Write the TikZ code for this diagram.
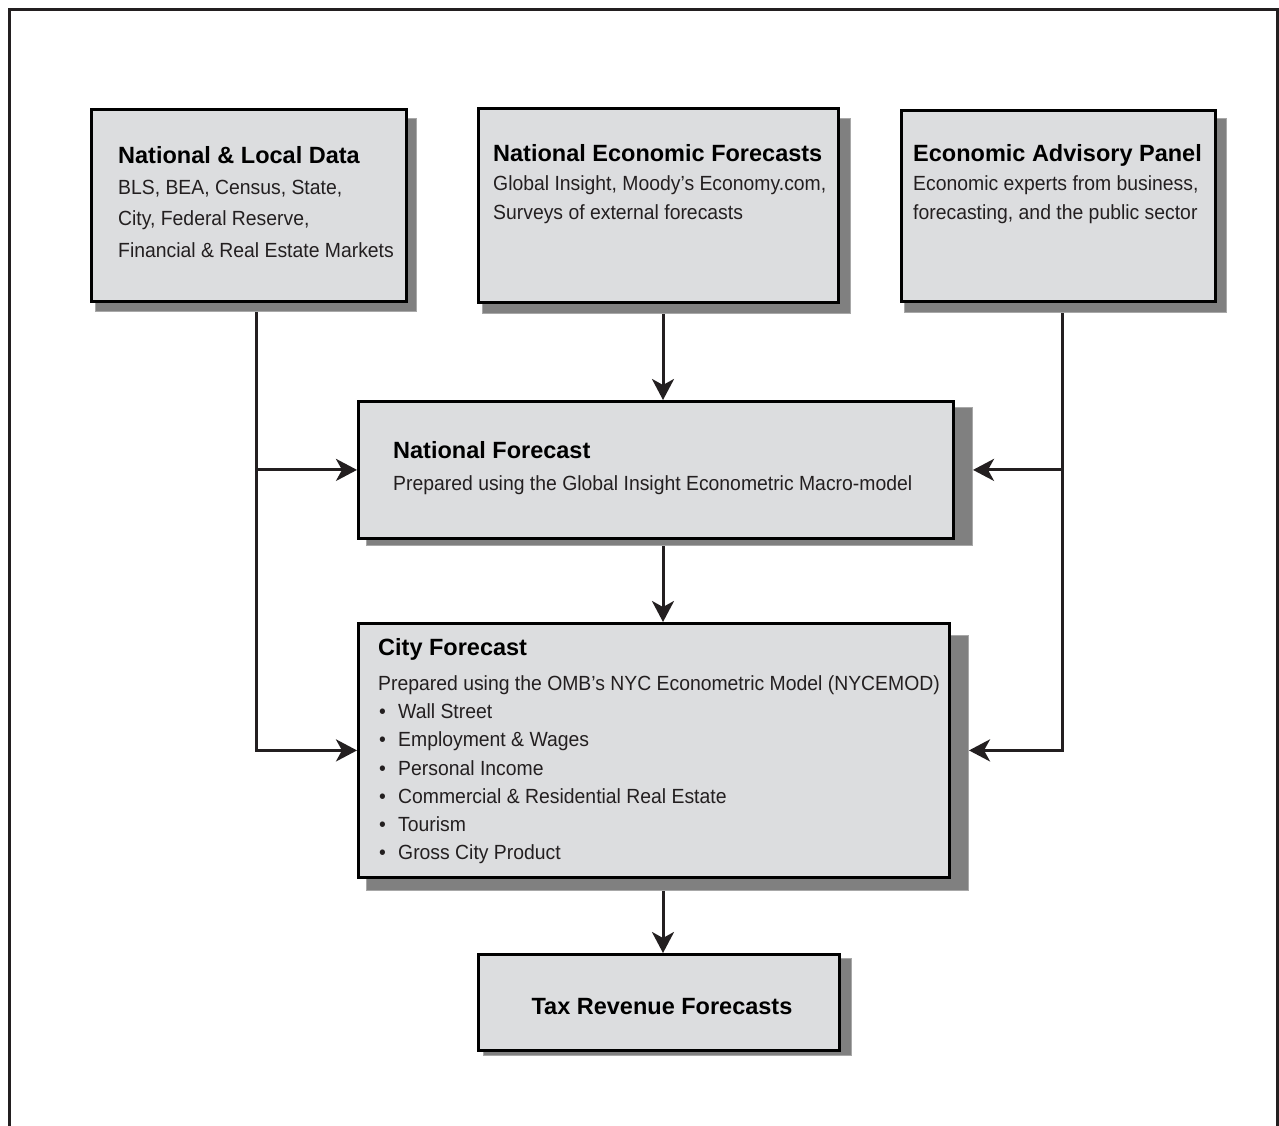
\documentclass[tikz,border=0pt]{standalone}
\usepackage{fontspec}
\setmainfont{Liberation Sans}
\newfontfamily\bodyfont[FakeStretch=0.945]{Liberation Sans}
\usetikzlibrary{arrows.meta,calc}
\definecolor{ink}{HTML}{231F20}
\definecolor{boxfill}{HTML}{DCDDDF}
\definecolor{shadowfill}{HTML}{808080}
\definecolor{shadowedge}{HTML}{A8A8A8}
\tikzset{
  frameline/.style={draw=ink, line width=3pt},
  shadowbox/.style={rectangle, fill=shadowfill, draw=shadowedge, line width=1pt, inner sep=0pt, anchor=north west},
  mainbox/.style={rectangle, fill=boxfill, draw=black, line width=2.8pt, inner sep=0pt, anchor=north west},
  head/.style={anchor=base west, inner sep=0pt, font=\bfseries\fontsize{23.5}{28}\selectfont, text=black},
  body/.style={anchor=base west, inner sep=0pt, font=\bodyfont\fontsize{20.5}{28}\selectfont, text=ink},
  conn/.style={draw=ink, line width=3pt},
  arr/.style={conn, -{Stealth[length=21pt, width=22pt, inset=6pt]}}
}
\begin{document}
\begin{tikzpicture}[x=1pt, y=-1pt]
\useasboundingbox (0,0) rectangle (1279,1125);
\fill[white] (0,0) rectangle (1279,1125);
% outer frame
\draw[frameline] (9.5,1126) -- (9.5,9.5) -- (1277.5,9.5) -- (1277.5,1126);

% shadows
\node[shadowbox, minimum width=321pt, minimum height=193pt] (b1s) at (95,118) {};
\node[shadowbox, minimum width=368pt, minimum height=195pt] (b2s) at (482,118) {};
\node[shadowbox, minimum width=322pt, minimum height=194pt] (b3s) at (904,118) {};
\node[shadowbox, minimum width=606pt, minimum height=138pt] (nfs) at (366,407) {};
\node[shadowbox, minimum width=602pt, minimum height=255pt] (cfs) at (366,635) {};
\node[shadowbox, minimum width=368pt, minimum height=97pt] (txs) at (483,958) {};

% boxes
\node[mainbox, minimum width=315pt, minimum height=192pt] (b1) at (90,108) {};
\node[mainbox, minimum width=360pt, minimum height=194pt] (b2) at (477,107) {};
\node[mainbox, minimum width=314pt, minimum height=191pt] (b3) at (900,109) {};
\node[mainbox, minimum width=595pt, minimum height=137pt] (nf) at (357,400) {};
\node[mainbox, minimum width=591pt, minimum height=254pt] (cf) at (357,622) {};
\node[mainbox, minimum width=361pt, minimum height=96pt] (tx) at (477,953) {};

% texts box 1
\node[head] (b1h) at (118,163) {National \& Local Data};
\node[body] (b1l1) at (118,194) {BLS, BEA, Census, State,};
\node[body] (b1l2) at (118,225) {City, Federal Reserve,};
\node[body] (b1l3) at (118,257) {Financial \& Real Estate Markets};
% box 2
\node[head] (b2h) at (493,161) {National Economic Forecasts};
\node[body] (b2l1) at (493,190) {Global Insight, Moody’s Economy.com,};
\node[body] (b2l2) at (493,219) {Surveys of external forecasts};
% box 3
\node[head] (b3h) at (913,161) {Economic Advisory Panel};
\node[body] (b3l1) at (913,190) {Economic experts from business,};
\node[body] (b3l2) at (913,219) {forecasting, and the public sector};
% national forecast
\node[head] (nfh) at (393,458) {National Forecast};
\node[body] (nfl1) at (393,490) {Prepared using the Global Insight Econometric Macro-model};
% city forecast
\node[head] (cfh) at (378,655) {City Forecast};
\node[body] (cfl1) at (378,690.5) {Prepared using the OMB’s NYC Econometric Model (NYCEMOD)};
\foreach \t [count=\i] in {Wall Street, Employment \& Wages, Personal Income, Commercial \& Residential Real Estate, Tourism, Gross City Product}{
  \node[body] (cfb\i) at (379,690.5+28.2*\i) {•};
  \node[body] (cfi\i) at (398,690.5+28.2*\i) {\t};
}
% tax
\node[anchor=base, inner sep=0pt, font=\bfseries\fontsize{23.5}{28}\selectfont] (txh) at (662,1014) {Tax Revenue Forecasts};

% connectors
\coordinate (lx) at (256,0);
\coordinate (rx) at (1062,0);
\coordinate (cx) at (663,0);
\draw[arr] (lx |- b1s.south) -- (lx |- cf.west) -- (cf.west);
\draw[arr] (lx |- nf.west) -- (nf.west);
\draw[arr] (rx |- b3s.south) -- (rx |- cf.east) -- (cfs.east |- cf.east);
\draw[arr] (rx |- nf.east) -- (nfs.east |- nf.east);
\draw[arr] (cx |- b2s.south) -- (cx |- nf.north);
\draw[arr] (cx |- nfs.south) -- (cx |- cf.north);
\draw[arr] (cx |- cfs.south) -- (cx |- tx.north);
\end{tikzpicture}
\end{document}
